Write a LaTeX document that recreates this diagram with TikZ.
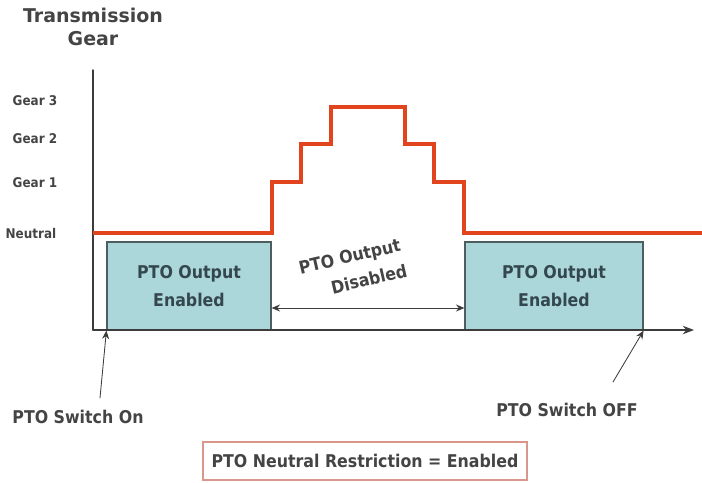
\documentclass[tikz,border=0pt]{standalone}
\usepackage{fontspec}
\setmainfont{DejaVu Sans Condensed}
\newfontfamily\titlefont{DejaVu Sans}
\usetikzlibrary{arrows.meta}
\definecolor{axisGray}{HTML}{3C3C3C}
\definecolor{gearRed}{HTML}{E2451E}
\definecolor{boxTeal}{HTML}{ABD7DB}
\definecolor{boxEdge}{HTML}{4E5E60}
\definecolor{boxText}{HTML}{34474E}
\definecolor{noteRed}{HTML}{D9968A}
\definecolor{textGray}{HTML}{444444}

\begin{document}
\begin{tikzpicture}[
  x=0.025cm, y=-0.025cm,
  >=Stealth,
  line cap=round,
  every node/.style={font=\bfseries\fontsize{12.5}{15}\selectfont, text=textGray},
  gearlabel/.style={font=\bfseries\fontsize{9.5}{11}\selectfont},
  statebox/.style={draw=boxEdge, fill=boxTeal, line width=0.8pt, text=boxText,
    font=\bfseries\fontsize{12.5}{19.5}\selectfont,
    minimum height=2.2cm, align=center, inner sep=0pt},
  pointer/.style={-{Stealth[length=6pt,width=5pt]}, axisGray, line width=0.6pt}
]
  \useasboundingbox (0,0) rectangle (702,482);

  % Axes
  \coordinate (O) at (93,330);
  \coordinate (Ytop) at (93,70);
  \coordinate (Xend) at (694,330);

  % Title and gear levels
  \node[font=\titlefont\bfseries\fontsize{13.5}{16.5}\selectfont, align=center] (title) at (93,27) {Transmission\\Gear};
  \node[gearlabel] (g3) at (35,101) {Gear 3};
  \node[gearlabel] (g2) at (35,139) {Gear 2};
  \node[gearlabel] (g1) at (35,183) {Gear 1};
  \node[gearlabel] (neutral) at (31,234) {Neutral};

  % Output state boxes
  \node[statebox, minimum width=4.1cm] (enabledA) at (189,286) {PTO Output\\Enabled};
  \node[statebox, minimum width=4.45cm] (enabledB) at (554,286) {PTO Output\\Enabled};

  \draw[axisGray, line width=1pt] (Ytop) -- (O);
  \draw[-{Stealth[length=8pt,width=6pt]}, axisGray, line width=1pt] (O) -- (Xend);

  % Gear trace
  \draw[gearRed, line width=2.2pt, line cap=butt, line join=miter]
    (93,233) -- (272,233) -- (272,182) -- (301,182) -- (301,144)
    -- (331,144) -- (331,107) -- (405,107) -- (405,144) -- (434,144)
    -- (434,182) -- (464,182) -- (464,233) -- (702,233);

  % Disabled span
  \draw[{Stealth[length=6pt,width=5pt]}-{Stealth[length=6pt,width=5pt]}, axisGray, line width=0.7pt]
    (enabledA.east |- 0,308) -- (enabledB.west |- 0,308);
  \node[rotate=13, inner sep=1pt] (disabled1) at (350,258) {PTO Output};
  \node[rotate=13, inner sep=1pt] (disabled2) at (369,279) {Disabled};

  % Switch events
  \node (swon) at (78,417) {PTO Switch On};
  \node (swoff) at (567,410) {PTO Switch OFF};
  \draw[pointer] (100,398) -- (enabledA.south west);
  \draw[pointer] (613,382) -- (enabledB.south east);

  % Restriction note
  \node[draw=noteRed, line width=0.8pt, minimum width=8.1cm, minimum height=0.95cm] (note) at (365,461)
    {PTO Neutral Restriction = Enabled};
\end{tikzpicture}
\end{document}
